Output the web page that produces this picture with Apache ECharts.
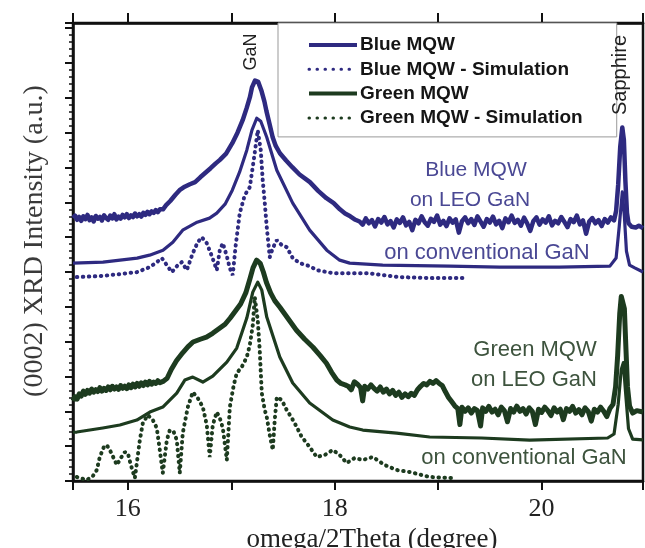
<!DOCTYPE html>
<html>
<head>
<meta charset="utf-8">
<script src="https://cdn.jsdelivr.net/npm/echarts@6/dist/echarts.min.js"></script>
<style>html,body{margin:0;padding:0;background:#fff}#c{width:645px;height:548px}</style>
</head>
<body>
<div id="c"></div>
<script>
// ---- data (omega/2Theta in degree, intensity in arbitrary units, curves vertically offset) ----
const xTickLabels = [16, 18, 20];
const seriesNames = ['Blue MQW', 'Blue MQW - Simulation', 'Green MQW', 'Green MQW - Simulation'];

const blueLeo = [
[15.47,7.55],[15.49,7.62],[15.51,7.50],[15.53,7.58],[15.55,7.47],[15.57,7.60],[15.59,7.52],[15.61,7.64],[15.63,7.49],[15.65,7.57],
[15.67,7.45],[15.69,7.61],[15.71,7.53],[15.73,7.58],[15.75,7.48],[15.77,7.63],[15.79,7.55],[15.81,7.50],[15.83,7.62],[15.85,7.54],
[15.87,7.66],[15.89,7.51],[15.91,7.59],[15.93,7.53],[15.95,7.64],[15.97,7.57],[15.99,7.66],[16.01,7.55],[16.03,7.63],[16.05,7.58],
[16.07,7.68],[16.09,7.60],[16.11,7.66],[16.13,7.59],[16.15,7.70],[16.17,7.64],[16.19,7.73],[16.21,7.66],[16.23,7.74],[16.25,7.70],
[16.27,7.78],[16.29,7.72],[16.31,7.80],[16.34,7.80],[16.37,7.92],[16.41,8.04],[16.46,8.22],[16.50,8.35],[16.55,8.45],[16.60,8.52],
[16.65,8.58],[16.70,8.72],[16.75,8.85],[16.80,8.98],[16.85,9.12],[16.89,9.22],[16.95,9.40],[17.01,9.70],[17.06,10.0],[17.11,10.36],
[17.15,10.72],[17.18,11.02],[17.20,11.30],[17.23,11.50],[17.26,11.46],[17.29,11.22],[17.32,10.90],[17.34,10.62],[17.37,10.25],[17.40,9.87],
[17.43,9.62],[17.47,9.41],[17.53,9.20],[17.59,9.01],[17.66,8.80],[17.76,8.58],[17.84,8.33],[17.92,8.12],[17.99,7.98],[18.05,7.80],
[18.10,7.68],[18.15,7.60],[18.20,7.50],
[18.24,7.45],[18.27,7.36],[18.30,7.54],[18.33,7.40],[18.36,7.49],[18.39,7.31],[18.42,7.52],[18.45,7.42],[18.48,7.58],[18.51,7.37],
[18.54,7.46],[18.57,7.28],[18.60,7.51],[18.63,7.41],[18.66,7.57],[18.69,7.34],[18.72,7.44],[18.75,7.20],[18.78,7.50],[18.81,7.40],
[18.84,7.60],[18.87,7.43],[18.90,7.33],[18.93,7.53],[18.96,7.44],[18.99,7.62],[19.02,7.36],[19.05,7.47],[19.08,7.32],[19.11,7.54],
[19.14,7.42],[19.17,7.51],[19.20,7.13],[19.23,7.46],[19.26,7.57],[19.29,7.40],[19.32,7.52],[19.35,7.35],[19.38,7.60],[19.41,7.45],
[19.44,7.30],[19.47,7.52],[19.50,7.42],[19.53,7.59],[19.56,7.37],[19.59,7.47],[19.62,7.26],[19.65,7.54],[19.68,7.43],[19.71,7.62],
[19.74,7.41],[19.77,7.50],[19.80,7.33],[19.83,7.56],[19.86,7.40],[19.89,7.18],[19.92,7.46],[19.95,7.57],[19.98,7.36],[20.01,7.51],
[20.04,7.42],[20.07,7.60],[20.10,7.34],[20.13,7.47],[20.16,7.40],[20.19,7.58],[20.22,7.44],[20.25,7.29],[20.28,7.52],[20.31,7.43],
[20.34,7.62],[20.37,7.37],[20.40,7.48],[20.43,7.10],[20.46,7.45],[20.49,7.55],[20.52,7.40],[20.55,7.49],[20.58,7.32],[20.61,7.52],
[20.64,7.42],[20.67,7.57],[20.70,7.48],[20.72,7.75],[20.74,8.50],[20.76,9.60],[20.78,10.15],[20.795,9.80],[20.81,8.60],[20.825,7.70],
[20.84,7.40],[20.87,7.30],[20.91,7.28],[20.94,7.33],[20.98,7.26]
];

const blueConv = [
[15.47,6.255],[15.76,6.284],[16.09,6.399],[16.21,6.485],[16.34,6.628],[16.435,6.858],[16.53,7.202],[16.67,7.432],[16.79,7.547],[16.86,7.69],
[16.94,7.948],[17.01,8.35],[17.08,8.867],[17.15,9.498],[17.20,10.072],[17.246,10.416],[17.285,10.33],[17.343,9.871],[17.44,8.924],[17.594,7.977],
[17.758,7.202],[17.923,6.628],[18.048,6.341],[18.145,6.255],[18.464,6.198],[19.11,6.17],[19.594,6.141],[20.17,6.14],[20.66,6.17],[20.72,6.4],
[20.75,7.3],[20.78,8.3],[20.80,7.6],[20.82,6.6],[20.85,6.2],[20.90,6.12],[20.98,6.0]
];

const blueSim = [
[15.507,5.854],[15.729,5.882],[15.923,5.94],[16.087,5.997],[16.213,6.141],[16.28,6.284],[16.329,6.399],[16.377,6.198],[16.425,5.997],[16.483,6.198],
[16.522,6.284],[16.57,6.055],[16.628,6.542],[16.676,6.858],[16.715,7.001],[16.763,6.829],[16.812,6.456],[16.86,6.055],[16.889,6.628],[16.918,6.829],
[16.957,6.456],[16.986,6.112],[17.014,5.911],[17.043,6.772],[17.082,7.69],[17.13,8.207],[17.179,8.436],[17.217,9.211],[17.256,10.072],[17.285,9.498],
[17.304,8.637],[17.324,7.977],[17.343,7.288],[17.372,6.428],[17.401,6.686],[17.44,6.915],[17.488,6.772],[17.536,6.714],[17.594,6.399],[17.662,6.255],
[17.758,6.17],[17.826,6.055],[17.981,5.968],[18.309,5.968],[18.628,5.854],[18.947,5.825],[19.275,5.825]
];

const greenLeo = [
[15.47,2.30],[15.49,2.42],[15.51,2.35],[15.53,2.50],[15.55,2.44],[15.57,2.58],[15.59,2.49],[15.61,2.60],[15.63,2.52],[15.65,2.64],
[15.67,2.55],[15.69,2.62],[15.71,2.57],[15.73,2.68],[15.75,2.58],[15.77,2.66],[15.79,2.60],[15.81,2.70],[15.83,2.62],[15.85,2.72],
[15.87,2.64],[15.89,2.70],[15.91,2.63],[15.93,2.74],[15.95,2.66],[15.97,2.72],[15.99,2.65],[16.01,2.76],[16.03,2.68],[16.05,2.78],
[16.07,2.70],[16.09,2.80],[16.11,2.72],[16.13,2.82],[16.15,2.74],[16.17,2.84],[16.19,2.76],[16.21,2.86],[16.23,2.78],[16.25,2.84],
[16.27,2.80],[16.29,2.88],[16.31,2.82],[16.34,2.86],[16.38,2.95],[16.42,3.20],[16.47,3.45],[16.53,3.68],[16.58,3.85],[16.63,3.99],
[16.70,4.07],[16.76,4.13],[16.82,4.24],[16.88,4.37],[16.94,4.50],[16.99,4.68],[17.04,4.88],[17.09,5.08],[17.14,5.40],[17.18,5.80],
[17.21,6.12],[17.245,6.34],[17.28,6.25],[17.31,6.00],[17.34,5.70],[17.38,5.40],[17.42,5.18],[17.47,4.99],[17.55,4.66],[17.63,4.33],
[17.71,4.07],[17.79,3.84],[17.86,3.60],[17.92,3.38],[17.97,3.12],[18.02,2.90],[18.06,2.80],[18.10,2.76],
[18.13,2.72],[18.16,2.62],[18.19,2.85],[18.22,2.78],[18.25,2.68],[18.27,2.30],[18.29,2.72],[18.32,2.64],[18.35,2.76],[18.38,2.66],
[18.41,2.58],[18.44,2.70],[18.47,2.55],[18.50,2.64],[18.53,2.50],[18.56,2.60],[18.59,2.46],[18.62,2.55],[18.65,2.40],[18.68,2.50],
[18.71,2.42],[18.74,2.52],[18.77,2.46],[18.80,2.62],[18.83,2.72],[18.86,2.80],[18.89,2.76],[18.92,2.86],[18.95,2.80],[18.98,2.88],
[19.01,2.80],[19.04,2.74],[19.07,2.56],[19.10,2.40],[19.13,2.28],[19.16,2.16],[19.19,2.08],[19.21,1.62],[19.23,2.12],[19.26,2.00],
[19.29,2.10],[19.32,1.95],[19.35,2.08],[19.38,2.02],[19.41,1.58],[19.43,2.10],[19.46,2.00],[19.49,2.14],[19.52,1.98],[19.55,2.06],
[19.58,1.90],[19.61,2.12],[19.64,2.02],[19.67,1.70],[19.70,2.08],[19.73,1.98],[19.76,2.15],[19.79,2.00],[19.82,2.08],[19.85,1.92],
[19.88,2.10],[19.91,2.00],[19.94,1.62],[19.97,2.06],[20.00,1.97],[20.03,2.12],[20.06,2.02],[20.09,1.88],[20.12,2.10],[20.15,1.98],
[20.18,2.06],[20.21,1.76],[20.24,2.08],[20.27,2.00],[20.30,2.14],[20.33,1.95],[20.36,2.05],[20.39,1.90],[20.42,2.10],[20.45,2.00],
[20.48,1.72],[20.51,2.06],[20.54,1.98],[20.57,2.12],[20.60,2.00],[20.63,1.85],[20.66,2.08],[20.69,2.20],[20.715,2.70],[20.735,3.60],
[20.755,4.80],[20.77,5.30],[20.785,5.35],[20.80,4.95],[20.815,3.80],[20.83,2.70],[20.85,2.15],[20.88,1.95],[20.92,2.02],[20.98,1.98]
];

const greenConv = [
[15.47,1.40],[15.507,1.406],[15.758,1.521],[15.923,1.607],[16.087,1.75],[16.213,1.98],[16.338,2.123],[16.473,2.525],[16.551,2.898],[16.628,2.984],
[16.725,2.841],[16.821,3.013],[16.957,3.415],[17.053,3.816],[17.15,4.677],[17.208,5.423],[17.256,5.71],[17.295,5.481],[17.343,4.706],[17.469,3.558],
[17.594,2.812],[17.758,2.238],[17.981,1.75],[18.145,1.549],[18.271,1.463],[18.599,1.377],[18.918,1.263],[19.42,1.234],[19.884,1.176],[20.638,1.234],
[20.70,1.35],[20.74,2.2],[20.77,3.2],[20.79,3.4],[20.81,2.6],[20.84,1.5],[20.88,1.2],[20.98,1.18]
];

const greenSim = [
[15.507,0.115],[15.604,0.029],[15.662,0.143],[15.70,0.316],[15.729,0.689],[15.768,0.976],[15.797,1.033],[15.836,0.832],[15.894,0.459],[15.932,0.66],
[15.971,0.832],[16.0,0.803],[16.029,0.459],[16.068,0.086],[16.087,0.029],[16.116,1.176],[16.145,1.664],[16.193,1.894],[16.242,1.75],[16.28,1.521],
[16.309,0.89],[16.338,0.23],[16.377,1.176],[16.406,1.463],[16.444,1.406],[16.473,1.176],[16.502,0.23],[16.531,1.377],[16.58,2.123],[16.628,2.554],
[16.676,2.382],[16.725,2.123],[16.763,1.607],[16.792,0.689],[16.821,1.607],[16.86,1.98],[16.889,1.808],[16.918,1.521],[16.957,0.603],[16.986,2.123],
[17.024,2.755],[17.053,3.099],[17.101,3.271],[17.15,3.558],[17.179,3.902],[17.208,4.476],[17.227,5.28],[17.256,4.62],[17.275,3.759],[17.295,2.525],
[17.324,2.037],[17.343,1.836],[17.372,1.32],[17.401,0.89],[17.42,1.75],[17.44,2.41],[17.488,2.324],[17.536,2.037],[17.585,1.808],[17.633,1.549],
[17.681,1.263],[17.729,1.09],[17.778,0.89],[17.826,0.689],[17.903,0.746],[17.981,0.89],[18.048,0.746],[18.116,0.516],[18.193,0.66],[18.271,0.603],
[18.367,0.689],[18.483,0.459],[18.599,0.316],[18.725,0.258],[18.918,0.115],[19.14,0.086]
];

// ---- styling ----
const BLUE = '#2e2a80';
const GREEN = '#1d3b1f';
const BLUE_TXT = '#4a4894';
const GREEN_TXT = '#3d533d';
const DOTS = [0.5, 5.5];
const HIDE_SYMBOL = {color: 'rgba(0,0,0,0)', borderWidth: 0, opacity: 0};

const chart = echarts.init(document.getElementById('c'), null, {renderer: 'canvas'});

function lineSeries(name, data, color, width, dotted, z) {
  return {
    name: name, type: 'line', data: data, showSymbol: false, symbol: 'none',
    animation: false, z: z, silent: true,
    lineStyle: dotted ? {color: color, width: width, type: DOTS, cap: 'round'} : {color: color, width: width, join: 'round'},
    itemStyle: {color: color}
  };
}

const option = {
  animation: false,
  backgroundColor: '#fff',
  grid: {left: 73, right: 2, top: 23, bottom: 67, containLabel: false, outerBoundsMode: 'none',
    show: true, borderColor: '#111', borderWidth: 2.5},
  legend: {
    orient: 'vertical', left: 278, top: 23,
    padding: [12, 34, 9, 29],
    itemWidth: 48, itemHeight: 14, itemGap: 4.3,
    borderColor: '#999', borderWidth: 1, backgroundColor: '#fff',
    selectedMode: false,
    textStyle: {fontFamily: 'Liberation Sans, Arial, sans-serif', fontWeight: 'bold', fontSize: 19, color: '#151515', lineHeight: 20, padding: [0,0,0,-2]},
    data: [
      {name: seriesNames[0], itemStyle: HIDE_SYMBOL, lineStyle: {color: BLUE, width: 4, type: 'solid'}},
      {name: seriesNames[1], itemStyle: HIDE_SYMBOL, lineStyle: {color: BLUE, width: 3, type: [0.5, 7.5], cap: 'round'}},
      {name: seriesNames[2], itemStyle: HIDE_SYMBOL, lineStyle: {color: GREEN, width: 4, type: 'solid'}},
      {name: seriesNames[3], itemStyle: HIDE_SYMBOL, lineStyle: {color: GREEN, width: 3, type: [0.5, 7.5], cap: 'round'}}
    ]
  },
  xAxis: [{
    type: 'value', min: 15.47, max: 20.98, position: 'bottom',
    name: 'omega/2Theta (degree)', nameLocation: 'middle', nameGap: 39,
    nameTextStyle: {fontFamily: 'Liberation Serif, Times New Roman, serif', fontSize: 27, color: '#222', padding: [0, 0, 0, 28]},
    axisLine: {show: true, onZero: false, lineStyle: {color: '#111', width: 2.5}},
    axisTick: {show: true, inside: false, length: 9, lineStyle: {color: '#111', width: 2}},
    axisLabel: {show: true, margin: 15, fontFamily: 'Liberation Serif, Times New Roman, serif', fontSize: 26, color: '#222',
      formatter: v => (xTickLabels.indexOf(Math.round(v * 1000) / 1000) >= 0 ? String(v) : '')},
    splitLine: {show: false}
  }, {
    type: 'value', min: 15.47, max: 20.98, position: 'top',
    axisLine: {show: true, onZero: false, lineStyle: {color: '#111', width: 2.5}},
    axisTick: {show: true, inside: false, length: 10, lineStyle: {color: '#111', width: 2}},
    axisLabel: {show: false}, splitLine: {show: false}
  }],
  yAxis: [{
    type: 'value', min: 0, max: 13.15, interval: 1,
    name: '(0002) XRD Intensity (a.u.)', nameLocation: 'middle', nameGap: 24,
    nameTextStyle: {fontFamily: 'Liberation Serif, Times New Roman, serif', fontSize: 28, color: '#3a3a3a', padding: [0, 0, 0, 22]},
    axisLine: {show: true, onZero: false, lineStyle: {color: '#111', width: 2.5}},
    axisTick: {show: true, inside: false, length: 8, lineStyle: {color: '#111', width: 2}},
    minorTick: {show: true, splitNumber: 5, length: 4, lineStyle: {color: '#111', width: 1.5}},
    axisLabel: {show: false}, splitLine: {show: false}
  }],
  series: [
    lineSeries(seriesNames[0], blueLeo, BLUE, 4.5, false, 5),
    lineSeries(seriesNames[1], blueSim, BLUE, 4, true, 3),
    lineSeries(seriesNames[2], greenLeo, GREEN, 5, false, 5),
    lineSeries(seriesNames[3], greenSim, GREEN, 4, true, 3),
    lineSeries(seriesNames[0], blueConv, BLUE, 3.2, false, 4),
    lineSeries(seriesNames[2], greenConv, GREEN, 3.2, false, 4)
  ],
  graphic: [
    {type: 'text', x: 251, y: 52, rotation: Math.PI / 2, z: 100,
      style: {text: 'GaN', font: '18px "Liberation Sans", Arial, sans-serif', fill: '#222', textAlign: 'center', textVerticalAlign: 'middle'}},
    {type: 'text', x: 620, y: 75, rotation: Math.PI / 2, z: 100,
      style: {text: 'Sapphire', font: '20px "Liberation Sans", Arial, sans-serif', fill: '#222', textAlign: 'center', textVerticalAlign: 'middle'}},
    {type: 'text', x: 476, y: 170, z: 100,
      style: {text: 'Blue MQW', font: '21px "Liberation Sans", Arial, sans-serif', fill: BLUE_TXT, textAlign: 'center', textVerticalAlign: 'middle'}},
    {type: 'text', x: 470, y: 200, z: 100,
      style: {text: 'on LEO GaN', font: '21px "Liberation Sans", Arial, sans-serif', fill: BLUE_TXT, textAlign: 'center', textVerticalAlign: 'middle'}},
    {type: 'text', x: 487, y: 253, z: 100,
      style: {text: 'on conventional GaN', font: '22px "Liberation Sans", Arial, sans-serif', fill: BLUE_TXT, textAlign: 'center', textVerticalAlign: 'middle'}},
    {type: 'text', x: 535, y: 350, z: 100,
      style: {text: 'Green MQW', font: '22px "Liberation Sans", Arial, sans-serif', fill: GREEN_TXT, textAlign: 'center', textVerticalAlign: 'middle'}},
    {type: 'text', x: 534, y: 380, z: 100,
      style: {text: 'on LEO GaN', font: '22px "Liberation Sans", Arial, sans-serif', fill: GREEN_TXT, textAlign: 'center', textVerticalAlign: 'middle'}},
    {type: 'text', x: 524, y: 458, z: 100,
      style: {text: 'on conventional GaN', font: '22px "Liberation Sans", Arial, sans-serif', fill: GREEN_TXT, textAlign: 'center', textVerticalAlign: 'middle'}}
  ]
};
chart.setOption(option);
</script>
</body>
</html>
